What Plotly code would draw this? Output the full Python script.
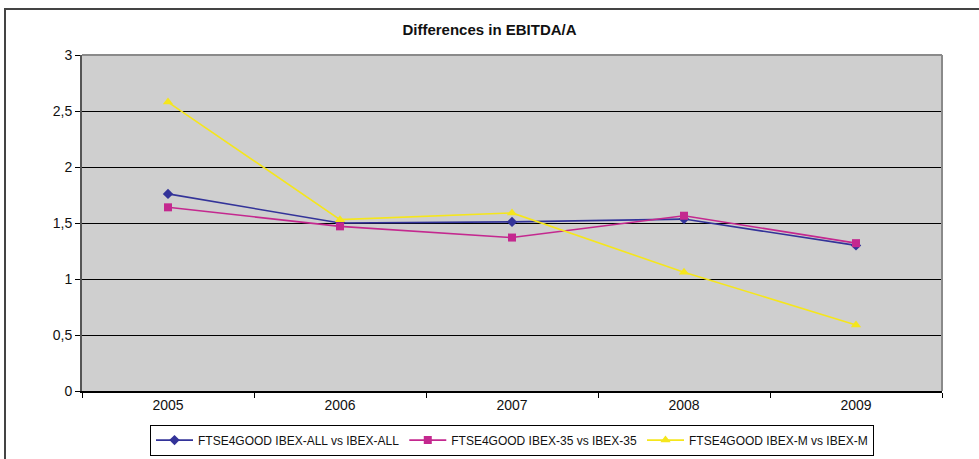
import plotly.graph_objects as go

years = ["2005", "2006", "2007", "2008", "2009"]
ibex_all = [1.76, 1.50, 1.51, 1.535, 1.30]
ibex_35 = [1.64, 1.47, 1.37, 1.565, 1.32]
ibex_m = [2.58, 1.53, 1.59, 1.06, 0.59]

series = [
    ("FTSE4GOOD IBEX-ALL vs IBEX-ALL", ibex_all, "#333399", "diamond", 8),
    ("FTSE4GOOD IBEX-35 vs IBEX-35", ibex_35, "#C4288F", "square", 8),
    ("FTSE4GOOD IBEX-M vs IBEX-M", ibex_m, "#F5E61C", "triangle-up", 9),
]

fig = go.Figure()
for name, vals, color, symbol, size in series:
    fig.add_trace(go.Scatter(
        x=years, y=vals, name=name, mode="lines+markers",
        line=dict(color=color, width=1.6),
        marker=dict(symbol=symbol, size=size, color=color),
    ))

fig.update_layout(
    width=979, height=459,
    margin=dict(l=82, r=37, t=55, b=68, autoexpand=False),
    paper_bgcolor="white",
    plot_bgcolor="#CFCFCF",
    separators=",.",
    font=dict(family="Liberation Sans, Arial, sans-serif", color="#111", size=12),
    title=dict(text="<b>Differences in EBITDA/A</b>", x=0.5, xanchor="center",
               y=1 - 30 / 459, yanchor="middle",
               font=dict(size=15, color="#111")),
    showlegend=True,
    legend=dict(orientation="h", x=0.5, xanchor="center", y=-0.1, yanchor="top",
                bordercolor="#000", borderwidth=1, bgcolor="white",
                font=dict(size=12, color="#111"), itemwidth=37,
                tracegroupgap=0),
    xaxis=dict(type="category", showgrid=False, ticks="outside", tickson="boundaries",
               ticklen=5, tickcolor="#000", showline=True, linecolor="#000",
               linewidth=1.5, mirror=False, tickfont=dict(size=14),
               range=[-0.5, 4.5], zeroline=False),
    yaxis=dict(range=[0, 3], dtick=0.5, showgrid=True, gridcolor="#000", gridwidth=1,
               ticks="outside", ticklen=5, tickcolor="#000", showline=True,
               linecolor="#555", linewidth=2, zeroline=False, tickfont=dict(size=14)),
)

# plot-area edges on top and right
fig.add_shape(type="line", xref="paper", yref="paper", x0=0, x1=1, y0=1, y1=1,
              line=dict(color="#8A8A8A", width=2))
fig.add_shape(type="line", xref="paper", yref="paper", x0=1, x1=1, y0=0, y1=1,
              line=dict(color="#8A8A8A", width=2))
# chart frame
fig.add_shape(type="rect", xref="paper", yref="paper",
              x0=(5 - 82) / 860, x1=1.2, y0=-0.4, y1=(391 - 9) / 336,
              line=dict(color="#444", width=2), layer="below")

fig.write_html("out.html")
